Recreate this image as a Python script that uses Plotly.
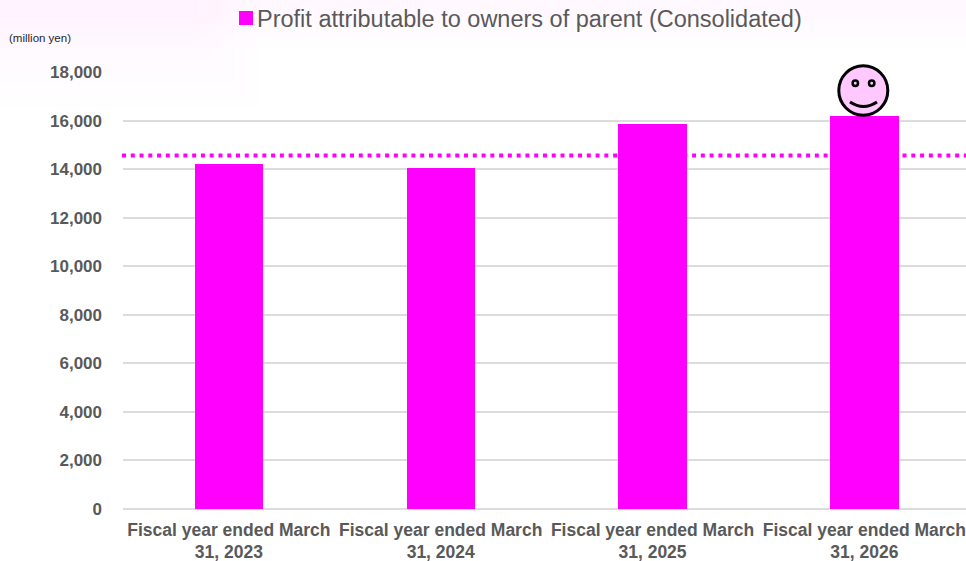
import plotly.graph_objects as go

categories = [
    "Fiscal year ended March<br>31, 2023",
    "Fiscal year ended March<br>31, 2024",
    "Fiscal year ended March<br>31, 2025",
    "Fiscal year ended March<br>31, 2026",
]
profit = [14210, 14050, 15860, 16190]
reference_level = 14560
y_ticks = list(range(0, 18001, 2000))
series_name = "Profit attributable to owners of parent (Consolidated)"
unit_label = "(million yen)"

MAGENTA = "#ff00ff"
GREY = "#595959"
GRID = "#dcdcdc"
FONT = "Liberation Sans, Arial, sans-serif"

W, H = 966, 561


def px(x):
    return x / W


def py(y):
    return 1 - y / H


fig = go.Figure()
fig.add_trace(go.Bar(
    x=categories, y=profit, name=series_name, width=0.323,
    marker=dict(color=MAGENTA, line=dict(width=0)),
    showlegend=False,
))


def page_rect(x0, y0, x1, y1, fill):
    return dict(type="rect", xref="paper", yref="paper",
                x0=px(x0), x1=px(x1), y0=py(y1), y1=py(y0),
                fillcolor=fill, line_width=0, layer="below")


# soft tint fading out across the top of the page, built up in thin layers
TINT = "rgba(250,235,250,0.05)"
tint_layers = []
for step in range(1, 7):
    tint_layers.append(page_rect(0, 0, 270 - step * 12, 120 - step * 12, TINT))
    tint_layers.append(page_rect(0, 0, 966, 54 - step * 6, TINT))

shapes = tint_layers + [
    # horizontal reference level behind the bars
    dict(type="line", xref="paper", yref="y", x0=px(122), x1=1,
         y0=reference_level, y1=reference_level,
         line=dict(color=MAGENTA, width=4, dash="4px,4.77px"), layer="below"),
    # series key
    dict(type="rect", xref="paper", yref="paper", x0=px(239), x1=px(253), y0=py(25), y1=py(11),
         fillcolor=MAGENTA, line_width=0),
    # smiley sitting on the last bar
    dict(type="circle", xref="paper", yref="paper", x0=px(838.8), x1=px(887.8), y0=py(115.2), y1=py(65.8),
         fillcolor="#ffc8ff", line=dict(color="black", width=3)),
    dict(type="circle", xref="paper", yref="paper", x0=px(852.6), x1=px(858), y0=py(86), y1=py(80.6),
         fillcolor="#ffc8ff", line=dict(color="black", width=2.5)),
    dict(type="circle", xref="paper", yref="paper", x0=px(869), x1=px(874.4), y0=py(86), y1=py(80.6),
         fillcolor="#ffc8ff", line=dict(color="black", width=2.5)),
    dict(type="path", xref="paper", yref="paper",
         path=f"M {px(850)} {py(102)} Q {px(863.5)} {py(111)} {px(877)} {py(102)}",
         line=dict(color="black", width=3)),
]

annotations = [
    dict(text=series_name, xref="paper", yref="paper", x=px(255), y=py(19),
         xanchor="left", yanchor="middle", showarrow=False,
         font=dict(size=23.5, color=GREY)),
    dict(text=unit_label, xref="paper", yref="paper", x=px(7), y=py(38),
         xanchor="left", yanchor="middle", showarrow=False,
         font=dict(size=11.5, color="#262626")),
]

fig.update_layout(
    width=W, height=H,
    margin=dict(l=0, r=0, t=0, b=0),
    paper_bgcolor="white", plot_bgcolor="rgba(0,0,0,0)",
    font=dict(family=FONT, color=GREY),
    bargap=0,
    shapes=shapes,
    annotations=annotations,
    xaxis=dict(domain=[px(123), 1], range=[-0.5, 3.48],
               tickfont=dict(size=17.5, color=GREY, family=FONT, weight="bold"),
               showgrid=False, showline=False, ticks="", tickangle=0, zeroline=False,
               ticklabelstandoff=8, automargin=False),
    yaxis=dict(domain=[py(509), py(72)], range=[0, 18000], tickvals=y_ticks, tickformat=",d",
               tickfont=dict(size=17, color=GREY, family=FONT, weight="bold"),
               showgrid=True, gridcolor=GRID, gridwidth=2, zeroline=True, zerolinecolor=GRID,
               zerolinewidth=2, ticks="", ticklabelstandoff=20, automargin=False),
)

fig.write_html("out.html")
